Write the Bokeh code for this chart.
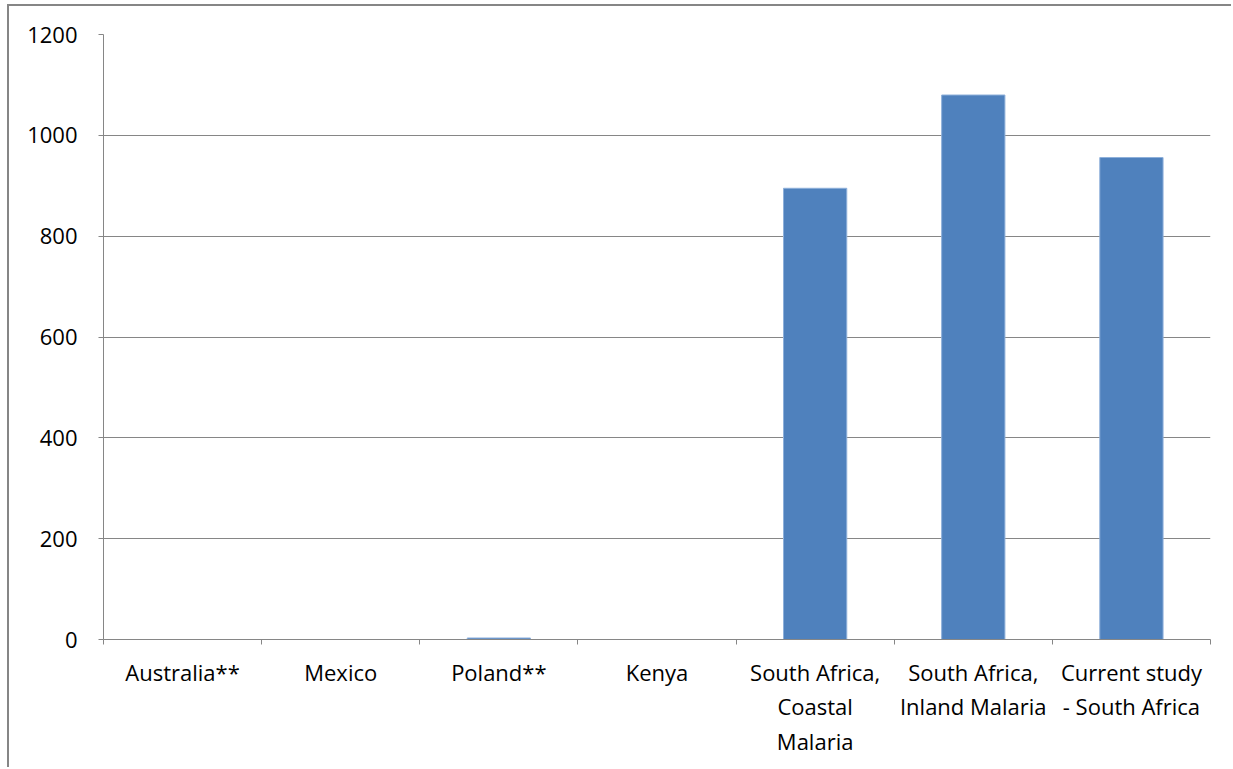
from bokeh.plotting import figure
from bokeh.models import FixedTicker, Range1d
from bokeh.embed import file_html
from bokeh.resources import INLINE

# Data
categories = [
    "Australia**",
    "Mexico",
    "Poland**",
    "Kenya",
    "South Africa,\nCoastal\nMalaria",
    "South Africa,\nInland Malaria",
    "Current study\n- South Africa",
]
values = [0, 0, 3, 0, 895, 1080, 956]
y_ticks = [0, 200, 400, 600, 800, 1000, 1200]

FONT = "Open Sans"
GREY = "#868686"
BAR = "#4F81BD"

n = len(categories)
centers = [i + 0.5 for i in range(n)]
bounds = list(range(n + 1))

p = figure(
    width=1224,
    height=763,
    output_backend="svg",
    toolbar_location=None,
    x_range=Range1d(0, n),
    y_range=Range1d(0, 1200),
    min_border_left=94,
    min_border_right=23,
    min_border_top=28,
    min_border_bottom=130,
)
p.styles = {
    "margin-left": "7px",
    "margin-top": "4px",
    "border-left": f"2px solid {GREY}",
    "border-top": f"2px solid {GREY}",
}
p.outline_line_color = None
p.background_fill_color = "white"
p.border_fill_color = "white"

p.vbar(x=centers, top=values, width=0.4, bottom=0,
       fill_color=BAR, line_color="#8EB0DA", line_width=1)

# y axis
p.yaxis.ticker = FixedTicker(ticks=y_ticks)
p.yaxis.axis_line_color = GREY
p.yaxis.major_tick_line_color = GREY
p.yaxis.major_tick_out = 5
p.yaxis.major_tick_in = 0
p.yaxis.minor_tick_line_color = None
p.yaxis.major_label_text_font = FONT
p.yaxis.major_label_text_font_size = "22px"
p.yaxis.major_label_text_color = "black"
p.yaxis.major_label_standoff = 21

p.ygrid.ticker = FixedTicker(ticks=y_ticks)
p.ygrid.grid_line_color = GREY
p.ygrid.grid_line_width = 1
p.xgrid.grid_line_color = None

# x axis: labels at category centres, tick marks at category boundaries
p.xaxis.ticker = FixedTicker(ticks=centers, minor_ticks=bounds)
p.xaxis.major_label_overrides = {c: lab for c, lab in zip(centers, categories)}
p.xaxis.axis_line_color = GREY
p.xaxis.major_tick_line_color = None
p.xaxis.minor_tick_line_color = GREY
p.xaxis.minor_tick_out = 5
p.xaxis.minor_tick_in = 0
p.xaxis.major_label_text_font = FONT
p.xaxis.major_label_text_font_size = "22px"
p.xaxis.major_label_text_color = "black"
p.xaxis.major_label_text_line_height = 1.15
p.xaxis.major_label_standoff = 11

open("out.html", "w").write(file_html(p, INLINE))
